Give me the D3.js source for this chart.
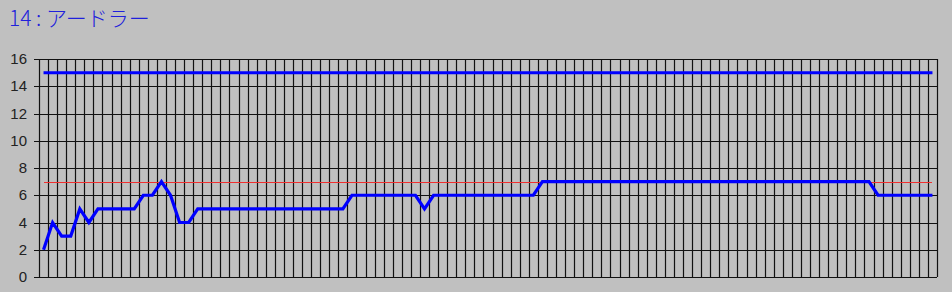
<!DOCTYPE html>
<html>
<head>
<meta charset="utf-8">
<script src="https://cdn.jsdelivr.net/npm/d3@7"></script>
<style>
  body { margin: 0; background: #c0c0c0; }
  svg { display: block; }
  .tick text { font-family: "Liberation Sans", Arial, sans-serif; font-size: 15px; fill: #222; }
</style>
</head>
<body>
<svg width="952" height="292"></svg>
<script>
// chart data
var titleText = "14 : アードラー";
var yTicks = [0, 2, 4, 6, 8, 10, 12, 14, 16];
var scores = [
  2, 4, 3, 3, 5, 4, 5, 5, 5, 5, 5,
  6, 6, 7, 6, 4, 4,
  5, 5, 5, 5, 5, 5, 5, 5, 5, 5, 5, 5, 5, 5, 5, 5, 5,
  6, 6, 6, 6, 6, 6, 6, 6,
  5,
  6, 6, 6, 6, 6, 6, 6, 6, 6, 6, 6, 6,
  7, 7, 7, 7, 7, 7, 7, 7, 7, 7, 7, 7, 7, 7, 7, 7, 7, 7, 7, 7,
  7, 7, 7, 7, 7, 7, 7, 7, 7, 7, 7, 7, 7, 7, 7, 7, 7,
  6, 6, 6, 6, 6, 6, 6
];
var upperLine = 15;
var averageLine = 7;
var rounds = scores.map(function(d, i) { return i + 1; });

var svg = d3.select("svg");

var margin = { top: 59, right: 15, bottom: 15, left: 39 };
var width = 952, height = 292;

var x = d3.scaleBand()
  .domain(rounds)
  .range([margin.left, width - margin.right])
  .padding(0);

var y = d3.scaleLinear()
  .domain([0, 16])
  .range([height - margin.bottom, margin.top]);

var cx = function(d) { return x(d) + x.bandwidth() / 2; };
var crisp = function(v) { return Math.round(v) + 0.5; };

// title
svg.append("text")
  .attr("x", 9)
  .attr("y", 26)
  .attr("fill", "#2020dc")
  .style("font-family", "'Noto Sans CJK JP', sans-serif")
  .style("font-size", "21px")
  .style("font-weight", 300)
  .text(titleText);

// vertical grid, one line at each category boundary
var bounds = rounds.map(function(d) { return x(d); }).concat([width - margin.right]);
svg.append("g")
  .selectAll("line")
  .data(bounds)
  .enter().append("line")
  .attr("x1", function(d) { return crisp(d); })
  .attr("x2", function(d) { return crisp(d); })
  .attr("y1", y(16))
  .attr("y2", y(0))
  .attr("stroke", "#111")
  .attr("stroke-width", 1.2);

// y axis with horizontal grid
var yAxis = d3.axisLeft(y)
  .tickValues(yTicks)
  .tickSize(0);

var gy = svg.append("g")
  .attr("transform", "translate(" + margin.left + ",0)")
  .call(yAxis);
gy.select(".domain").remove();
gy.selectAll(".tick")
  .attr("transform", function(d) { return "translate(0," + crisp(y(d)) + ")"; });
gy.selectAll(".tick line")
  .attr("x1", -5)
  .attr("x2", width - margin.right - margin.left)
  .attr("stroke", "#111")
  .attr("stroke-width", 1.2);
gy.selectAll(".tick text").attr("x", -12);

// red reference line
svg.append("line")
  .attr("x1", cx(rounds[0]))
  .attr("x2", cx(rounds[rounds.length - 1]))
  .attr("y1", crisp(y(averageLine)))
  .attr("y2", crisp(y(averageLine)))
  .attr("stroke", "#f03030")
  .attr("stroke-width", 1)
  .attr("shape-rendering", "crispEdges");

// blue upper line
svg.append("line")
  .attr("x1", cx(rounds[0]))
  .attr("x2", cx(rounds[rounds.length - 1]))
  .attr("y1", y(upperLine))
  .attr("y2", y(upperLine))
  .attr("stroke", "#0000ff")
  .attr("stroke-width", 3);

// score line
var line = d3.line()
  .x(function(d, i) { return cx(rounds[i]); })
  .y(function(d) { return y(d); });

svg.append("path")
  .datum(scores)
  .attr("d", line)
  .attr("fill", "none")
  .attr("stroke", "#0000ff")
  .attr("stroke-width", 3.2)
  .attr("stroke-linejoin", "miter");
</script>
</body>
</html>
